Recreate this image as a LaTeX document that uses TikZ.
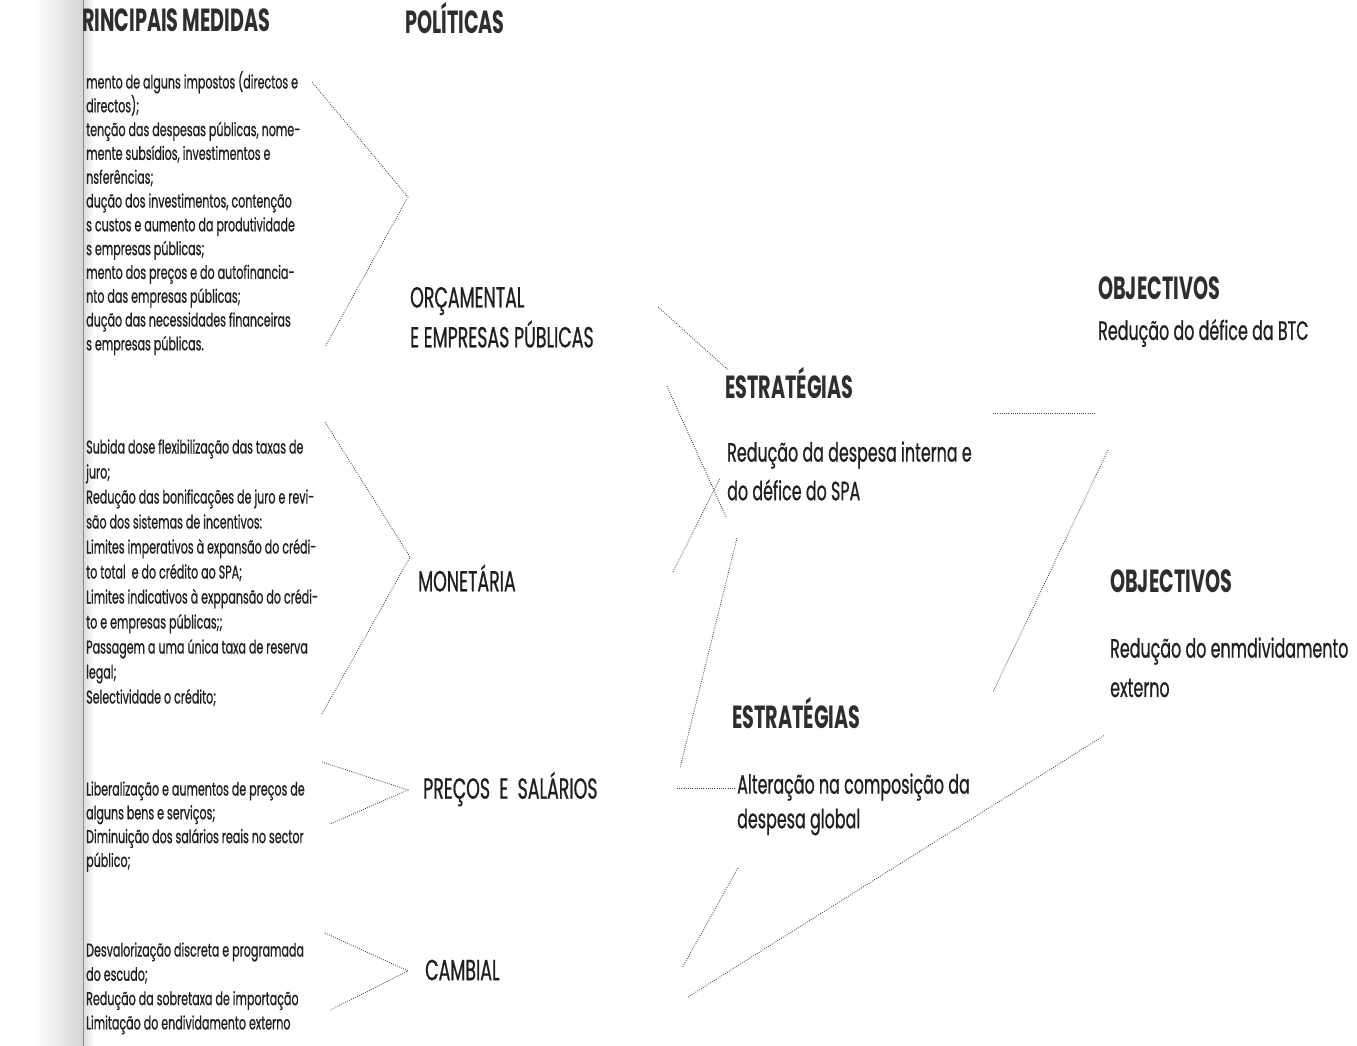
\documentclass[tikz,border=0pt]{standalone}
\usepackage{fontspec}
\setmainfont{Poppins}[FakeStretch=0.6]
\newfontfamily\rgfont{Poppins}[FakeStretch=0.6,FakeBold=0.7]
\begin{document}
\begin{tikzpicture}[x=1pt,y=-1pt,
  item/.style={anchor=west,inner sep=0pt,text height=13pt,text depth=4pt,font=\rgfont\fontsize{18.5}{20}\selectfont,text=black!88},
  lab/.style={anchor=west,inner sep=0pt,font=\rgfont\fontsize{29}{32}\selectfont,text=black!88},
  hd/.style={anchor=west,inner sep=0pt,font=\fontsize{32}{36}\selectfont\bfseries,text=black!82},
  body/.style={anchor=west,inner sep=0pt,font=\rgfont\fontsize{26.5}{30}\selectfont,text=black!88},
  dotline/.style={draw=black!75,line width=0.9pt,dash pattern=on 0.8pt off 1.4pt}]
\useasboundingbox (0,0) rectangle (1357,1046);
% gutter of the scanned page
\shade[left color=white,right color=black!16] (35,0) rectangle (82,1046);
\shade[left color=black!16,right color=white] (82,0) rectangle (94,1046);
\draw[black!45,line width=1pt] (83,0) -- (83,1046);
% headers
\node[hd] (hmed) at (82,20) {RINCIPAIS MEDIDAS};
\node[hd] (hpol) at (405,18) {POLÍTICAS};
% list 1
\foreach [count=\i] \t in {{mento de alguns impostos (directos e},{directos);},{tenção das despesas públicas, nome-},{mente subsídios, investimentos e},{nsferências;},{dução dos investimentos, contenção},{s custos e aumento da produtividade},{s empresas públicas;},{mento dos preços e do autofinancia-},{nto das empresas públicas;},{dução das necessidades financeiras},{s empresas públicas.}}
  \node[item] (la\i) at ({86},{84+23.8*(\i-1)}) {\t};
% list 2
\foreach [count=\i] \t in {{Subida dose flexibilização das taxas de},{juro;},{Redução das bonificações de juro e revi-},{são dos sistemas de incentivos:},{Limites imperativos à expansão do crédi-},{to total\ \ e do crédito ao SPA;},{Limites indicativos à exppansão do crédi-},{to e empresas públicas;;},{Passagem a uma única taxa de reserva},{legal;},{Selectividade o crédito;}}
  \node[item] (lb\i) at ({86},{449+25*(\i-1)}) {\t};
% list 3
\foreach [count=\i] \t in {{Liberalização e aumentos de preços de},{alguns bens e serviços;},{Diminuição dos salários reais no sector},{público;}}
  \node[item] (lc\i) at ({86},{791+23.8*(\i-1)}) {\t};
% list 4
\foreach [count=\i] \t in {{Desvalorização discreta e programada},{do escudo;},{Redução da sobretaxa de importação},{Limitação do endividamento externo}}
  \node[item] (ld\i) at ({86},{952+24.3*(\i-1)}) {\t};
% policy labels
\node[lab] (orc1) at (410,301) {ORÇAMENTAL};
\node[lab] (orc2) at (410,334) {E EMPRESAS PÚBLICAS};
\node[lab] (mon) at (418,578) {MONETÁRIA};
\node[lab] (pre) at (423,789) {PREÇOS\ \ E\ \ SALÁRIOS};
\node[lab] (cam) at (425,970) {CAMBIAL};
% strategies
\node[hd] (est1) at (725,383) {ESTRATÉGIAS};
\node[body] (r1a) at (727,455) {Redução da despesa interna e};
\node[body] (r1b) at (727,490) {do défice do SPA};
\node[hd] (est2) at (732,713) {ESTRATÉGIAS};
\node[body] (r2a) at (737,787) {Alteração na composição da};
\node[body] (r2b) at (737,822) {despesa global};
% objectives
\node[hd] (obj1) at (1098,288) {OBJECTIVOS};
\node[body] (o1) at (1098,333) {Redução do défice da BTC};
\node[hd] (obj2) at (1110,581) {OBJECTIVOS};
\node[body] (o2a) at (1110,651) {Redução do enmdividamento};
\node[body] (o2b) at (1110,688) {externo};
% connector points
\coordinate (a1) at (312,82);  \coordinate (a2) at (408,197); \coordinate (a3) at (325,347);
\coordinate (b1) at (325,422); \coordinate (b2) at (410,557); \coordinate (b3) at (322,714);
\coordinate (c1) at (322,762); \coordinate (c2) at (408,790); \coordinate (c3) at (330,824);
\coordinate (d1) at (325,933); \coordinate (d2) at (408,971); \coordinate (d3) at (330,1010);
\coordinate (e1) at (658,307); \coordinate (e2) at (728,370);
\coordinate (f1) at (667,386); \coordinate (f2) at (726,517);
\coordinate (g1) at (673,572); \coordinate (g2) at (720,478);
\coordinate (h1) at (737,538); \coordinate (h2) at (680,768);
\coordinate (i1) at (677,788); \coordinate (i2) at (735,788);
\coordinate (j1) at (738,868); \coordinate (j2) at (682,968);
\coordinate (k1) at (688,997); \coordinate (k2) at (1105,735);
\coordinate (m1) at (993,413); \coordinate (m2) at (1095,413);
\coordinate (n1) at (1108,450); \coordinate (n2) at (993,692);
\draw[dotline] (a1) -- (a2) -- (a3);
\draw[dotline] (b1) -- (b2) -- (b3);
\draw[dotline] (c1) -- (c2) -- (c3);
\draw[dotline] (d1) -- (d2) -- (d3);
\draw[dotline] (e1) -- (e2);
\draw[dotline] (f1) -- (f2);
\draw[dotline] (g1) -- (g2);
\draw[dotline] (h1) -- (h2);
\draw[dotline] (i1) -- (i2);
\draw[dotline] (j1) -- (j2);
\draw[dotline] (k1) -- (k2);
\draw[dotline] (m1) -- (m2);
\draw[dotline] (n1) -- (n2);
\end{tikzpicture}
\end{document}
